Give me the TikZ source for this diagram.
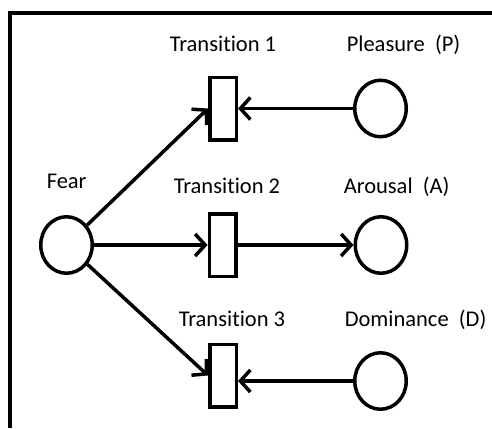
\documentclass[tikz,border=0pt]{standalone}
\usepackage{fontspec}
\setmainfont{Carlito}[Ligatures=CommonOff]
\usetikzlibrary{arrows.meta,shapes.geometric,calc}

\begin{document}
\begin{tikzpicture}[x=1pt,y=-1pt,
  line width=3.5pt,
  place/.style={draw,ellipse,minimum width=51.5pt,minimum height=56.5pt,inner sep=0pt},
  trans/.style={draw,rectangle,minimum width=26.5pt,minimum height=62.5pt,inner sep=0pt},
  lbl/.style={anchor=base west,inner sep=0pt,font=\fontsize{22.5}{27}\selectfont},
  arc/.style={-{Straight Barb[length=10pt,width=22pt]}},
]
\useasboundingbox (0,0) rectangle (492,428);

% open frame along the top and left edges
\draw[line width=4pt] (9.5,428) -- (9.5,13.5) -- (492,13.5);

% places
\node[place] (fear) at (66.5,245) {};
\node[place] (pleasure) at (380.5,108.5) {};
\node[place] (arousal) at (381,245) {};
\node[place] (dominance) at (380.5,381) {};

% transitions
\node[trans] (t1) at (223,108.5) {};
\node[trans] (t2) at (222.5,245) {};
\node[trans] (t3) at (223,375.5) {};

% labels
\node[lbl] (lfear) at (45,188) {Fear};
\node[lbl] (lt1) at (168,52) {Transition 1};
\node[lbl] (lt2) at (172,193) {Transition 2};
\node[lbl] (lt3) at (177,326) {Transition 3};
\node[lbl] (lp) at (345,52) {Pleasure\ \ (P)};
\node[lbl] (la) at (342,193) {Arousal\ \ (A)};
\node[lbl] (ld) at (343,326) {Dominance\ \ (D)};

% arcs
\draw[arc] (fear) -- (t1.west);
\draw[arc] (fear.east) -- (t2.west);
\draw[arc] (fear) -- (t3.west);
\draw[arc] (pleasure.west) -- (t1.east);
\draw[arc] (t2.east) -- (arousal.west);
\draw[arc] (dominance.west) -- (t3.east |- dominance.west);
\end{tikzpicture}
\end{document}
